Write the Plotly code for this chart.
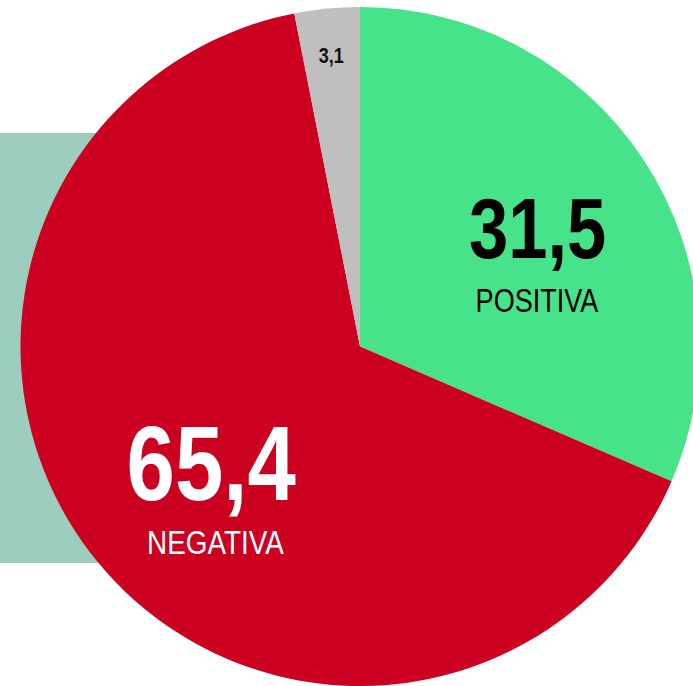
import plotly.graph_objects as go

labels = ["POSITIVA", "NEGATIVA", "NS/NC"]
values = [31.5, 65.4, 3.1]
value_text = ["31,5", "65,4", "3,1"]
colors = ["#46e38a", "#cc0020", "#bfbfbf"]

W, H = 720, 686
cx, cy, r = 360, 346.5, 339.5  # pixels from top-left

fig = go.Figure(go.Pie(
    labels=labels, values=values, sort=False, direction="clockwise", rotation=0,
    marker=dict(colors=colors, line=dict(width=0)),
    textinfo="none", hoverinfo="label+value", showlegend=False,
    domain=dict(x=[(cx - r) / W, (cx + r) / W], y=[(H - cy - r) / H, (H - cy + r) / H]),
))

font_b = "Liberation Sans, Arial, sans-serif"

def px(x, y):
    return x / W, 1 - y / H

ann = []
x, y = px(537, 228)
ann.append(dict(x=x, y=y, text="<b>%s</b>" % value_text[0], font=dict(size=86, color="#000", family=font_b)))
x, y = px(537, 300)
ann.append(dict(x=x, y=y, text=labels[0], font=dict(size=33, color="#000", family=font_b)))
x, y = px(211, 463)
ann.append(dict(x=x, y=y, text="<b>%s</b>" % value_text[1], font=dict(size=106, color="#fff", family=font_b)))
x, y = px(215, 542)
ann.append(dict(x=x, y=y, text=labels[1], font=dict(size=34, color="#fff", family=font_b)))
x, y = px(331, 55)
ann.append(dict(x=x, y=y, text="<b>%s</b>" % value_text[2], font=dict(size=22, color="#111", family=font_b)))
for a in ann:
    a.update(xref="paper", yref="paper", showarrow=False, xanchor="center", yanchor="middle")

fig.update_layout(
    width=W, height=H, margin=dict(l=0, r=0, t=0, b=0),
    paper_bgcolor="#ffffff", plot_bgcolor="#ffffff",
    annotations=ann,
    shapes=[dict(type="rect", xref="paper", yref="paper", x0=0, x1=200 / W,
                 y0=1 - 563 / H, y1=1 - 133 / H, fillcolor="#9dcdbd", line=dict(width=0), layer="below")],
)

css = (".annotation-text{transform-box:fill-box;transform-origin:center;"
       "transform:scaleX(0.82);}")
fig.write_html("out.html", config={"displayModeBar": False},
               post_script="document.body.style.margin='0';document.body.style.overflow='hidden';"
                           "var s=document.createElement('style');s.textContent='" + css + "';"
                           "document.head.appendChild(s);")
